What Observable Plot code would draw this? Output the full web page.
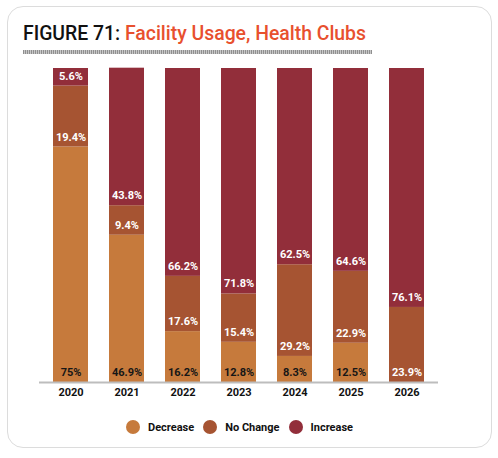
<!DOCTYPE html>
<html>
<head>
<meta charset="utf-8">
<script src="https://cdn.jsdelivr.net/npm/d3@7"></script>
<script src="https://cdn.jsdelivr.net/npm/@observablehq/plot@0.6"></script>
<style>
  html, body { margin: 0; padding: 0; background: #fff; }
  body { width: 498px; height: 458px; position: relative; overflow: hidden; font-family: Roboto, "Noto Sans", sans-serif; }
  #card { position: absolute; left: 7px; top: 6px; width: 485px; height: 442px; box-sizing: border-box; border: 1.5px solid #dcdcdc; border-radius: 16px; }
  #title { position: absolute; left: 23px; top: 23px; font-size: 20px; line-height: 20px; font-weight: 500; white-space: nowrap; transform-origin: 0 0; }
  #title .k { color: #111; }
  #title .t { color: #e8502e; }
  #rule { position: absolute; left: 23px; top: 50px; width: 349px; height: 4px; background: repeating-linear-gradient(90deg, #8f8f8f 0 1px, #c8c8c8 1px 2px); }
  #chart { position: absolute; left: 0; top: 0; }
  #legend { position: absolute; left: 126px; top: 420px; height: 14px; display: flex; align-items: center; font-size: 11px; font-weight: 700; color: #111; }
  #legend .sw { width: 14px; height: 14px; border-radius: 50%; margin-right: 8px; }
  #legend .lb { margin-right: 9px; }
</style>
</head>
<body>
<div id="card"></div>
<div id="title"><span class="k">FIGURE 71: </span><span class="t">Facility Usage, Health Clubs</span></div>
<div id="rule"></div>
<div id="chart"></div>
<div id="legend"></div>
<script>
const years = ["2020", "2021", "2022", "2023", "2024", "2025", "2026"];
const categories = ["Decrease", "No Change", "Increase"];
const decrease = [75, 46.9, 16.2, 12.8, 8.3, 12.5, 0];
const noChange = [19.4, 9.4, 17.6, 15.4, 29.2, 22.9, 23.9];
const increase = [5.6, 43.8, 66.2, 71.8, 62.5, 64.6, 76.1];
const colors = ["#c67a3c", "#a65432", "#922e3a"];

const series = [decrease, noChange, increase];
const data = [];
years.forEach((year, i) => {
  categories.forEach((category, j) => {
    data.push({year, category, value: series[j][i]});
  });
});

// fit title to reference width
const title = document.getElementById("title");
const tw = title.getBoundingClientRect().width;
title.style.transform = `scaleX(${343 / tw})`;

const label = d => d.value > 0 ? d.value + "%" : null;

const chart = Plot.plot({
  width: 498,
  height: 410,
  marginLeft: 39,
  marginRight: 60,
  marginTop: 68,
  marginBottom: 28,
  style: {fontFamily: "Roboto, 'Noto Sans', sans-serif", background: "transparent", overflow: "visible"},
  x: {domain: years, paddingInner: 0.38, paddingOuter: 0.225, label: null},
  y: {domain: [0, 100], axis: null},
  color: {domain: categories, range: colors},
  marks: [
    Plot.barY(data, {x: "year", y: "value", fill: "category", order: categories}),
    Plot.text(data, Plot.stackY1({
      x: "year", y: "value", z: "category", order: categories,
      text: d => d.category === "Decrease" ? null : label(d),
      dy: -10, fill: "white", fontSize: 11, fontWeight: "bold"
    })),
    Plot.text(data.filter(d => d.category === "Decrease"), Plot.stackY1({
      x: "year", y: "value",
      text: label,
      dy: -10, fill: "#161616", fontSize: 11, fontWeight: "bold"
    })),
    Plot.ruleY([0], {stroke: "#bdbdbd", strokeWidth: 2}),
    Plot.axisX({tickSize: 0, tickPadding: 6, fontSize: 11, fontWeight: "bold", fill: "#111", label: null})
  ]
});
document.getElementById("chart").appendChild(chart);

const legend = document.getElementById("legend");
categories.forEach((c, i) => {
  const sw = document.createElement("span");
  sw.className = "sw";
  sw.style.background = colors[i];
  const lb = document.createElement("span");
  lb.className = "lb";
  lb.textContent = c;
  legend.appendChild(sw);
  legend.appendChild(lb);
});
</script>
</body>
</html>
